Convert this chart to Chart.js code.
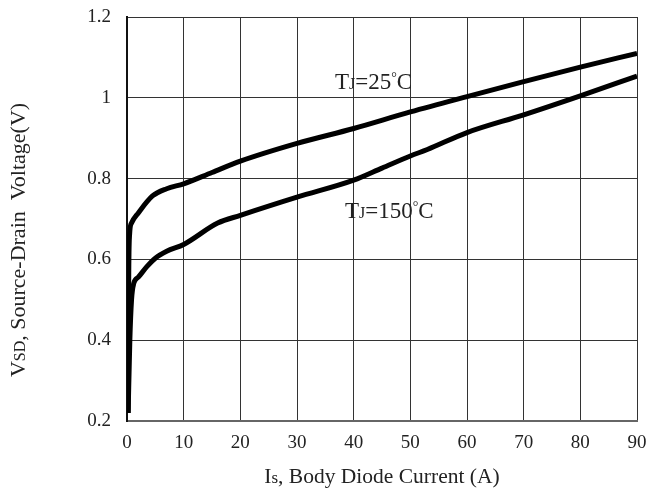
<!DOCTYPE html>
<html>
<head>
<meta charset="utf-8">
<script src="https://cdn.jsdelivr.net/npm/chart.js@4/dist/chart.umd.min.js"></script>
<style>
  html, body { margin: 0; padding: 0; background: #fff; }
  #wrap { width: 660px; height: 495px; }
</style>
</head>
<body>
<div id="wrap"><canvas id="vsd-chart" width="660" height="495"></canvas></div>
<script>
// Is (A) vs VSD (V), two junction temperatures
const is25 = [0.2, 0.3, 0.45, 0.8, 2, 4.5, 7, 10, 15, 20, 30, 40, 50, 60, 70, 80, 90];
const vsd25 = [0.22, 0.55, 0.66, 0.69, 0.715, 0.757, 0.775, 0.787, 0.815, 0.843, 0.887, 0.924, 0.965, 1.003, 1.04, 1.076, 1.11];

const is150 = [0.2, 0.5, 0.8, 1.2, 2, 3.5, 5, 7, 10, 16, 20, 30, 40, 45, 50, 53, 60, 70, 80, 90];
const vsd150 = [0.22, 0.40, 0.50, 0.541, 0.556, 0.582, 0.603, 0.62, 0.637, 0.69, 0.709, 0.754, 0.796, 0.826, 0.856, 0.872, 0.914, 0.958, 1.005, 1.054];

const xTicks = [0, 10, 20, 30, 40, 50, 60, 70, 80, 90];
const yTicks = [0.2, 0.4, 0.6, 0.8, 1, 1.2];

const textColor = '#222';
const serif = '"Liberation Serif", "DejaVu Serif", serif';

function toPoints(xs, ys) {
    return xs.map((x, i) => ({ x: x, y: ys[i] }));
}

// draws a run of [text, size, raise] pieces starting at x
function drawPieces(ctx, pieces, x, y) {
    pieces.forEach(p => {
        ctx.font = p[1] + 'px ' + serif;
        ctx.fillText(p[0], x, y - (p[2] || 0));
        x += ctx.measureText(p[0]).width;
    });
    return x;
}

function piecesWidth(ctx, pieces) {
    let w = 0;
    pieces.forEach(p => {
        ctx.font = p[1] + 'px ' + serif;
        w += ctx.measureText(p[0]).width;
    });
    return w;
}

const labelsPlugin = {
    id: 'labels',
    afterDraw(chart) {
        const ctx = chart.ctx;
        const area = chart.chartArea;
        ctx.save();
        ctx.fillStyle = textColor;
        ctx.textBaseline = 'alphabetic';
        ctx.textAlign = 'left';

        // curve labels
        const t25 = [['T', 23], ['J', 16], ['=25', 23], ['°', 14, 7], ['C', 23]];
        const t150 = [['T', 23], ['J', 16], ['=150', 23], ['°', 14, 7], ['C', 23]];
        drawPieces(ctx, t25, 335, 89);
        drawPieces(ctx, t150, 345, 218);

        // x axis title
        const xt = [['I', 21.5], ['s', 17], [', Body Diode Current (A)', 21.5]];
        const xw = piecesWidth(ctx, xt);
        drawPieces(ctx, xt, (area.left + area.right) / 2 - xw / 2, 483);

        // y axis title, rotated
        const yt = [['V', 22], ['SD', 16], [', Source-Drain  Voltage(V)', 22]];
        const yw = piecesWidth(ctx, yt);
        ctx.translate(25, 240);
        ctx.rotate(-Math.PI / 2);
        drawPieces(ctx, yt, -yw / 2, 0);
        ctx.restore();
    }
};

const ctx = document.getElementById('vsd-chart').getContext('2d');
const chart = new Chart(ctx, {
    type: 'scatter',
    data: {
        datasets: [
            {
                label: 'TJ=25°C',
                data: toPoints(is25, vsd25),
                showLine: true,
                borderColor: '#000',
                borderWidth: 5,
                pointRadius: 0,
                cubicInterpolationMode: 'monotone'
            },
            {
                label: 'TJ=150°C',
                data: toPoints(is150, vsd150),
                showLine: true,
                borderColor: '#000',
                borderWidth: 5,
                pointRadius: 0,
                cubicInterpolationMode: 'monotone'
            }
        ]
    },
    options: {
        responsive: false,
        animation: false,
        layout: { padding: { left: 0, right: 23, top: 17, bottom: 0 } },
        plugins: {
            legend: { display: false },
            tooltip: { enabled: false }
        },
        scales: {
            x: {
                type: 'linear',
                min: 0,
                max: 90,
                afterBuildTicks: axis => { axis.ticks = xTicks.map(v => ({ value: v })); },
                afterFit: axis => { axis.height = 74; axis.paddingLeft = 0; axis.paddingRight = 0; },
                ticks: {
                    color: textColor,
                    font: { family: serif, size: 19 },
                    padding: 11,
                    maxRotation: 0
                },
                grid: { color: '#333', lineWidth: 1, drawTicks: false },
                border: { color: '#666', width: 2 }
            },
            y: {
                type: 'linear',
                min: 0.2,
                max: 1.2,
                afterBuildTicks: axis => { axis.ticks = yTicks.map(v => ({ value: v })); },
                afterFit: axis => { axis.width = 127; axis.paddingTop = 0; axis.paddingBottom = 0; },
                ticks: {
                    color: textColor,
                    font: { family: serif, size: 19 },
                    padding: 16,
                    callback: v => String(Math.round(v * 10) / 10)
                },
                grid: { color: '#333', lineWidth: 1, drawTicks: false },
                border: { color: '#111', width: 2 }
            }
        }
    },
    plugins: [labelsPlugin]
});
</script>
</body>
</html>
